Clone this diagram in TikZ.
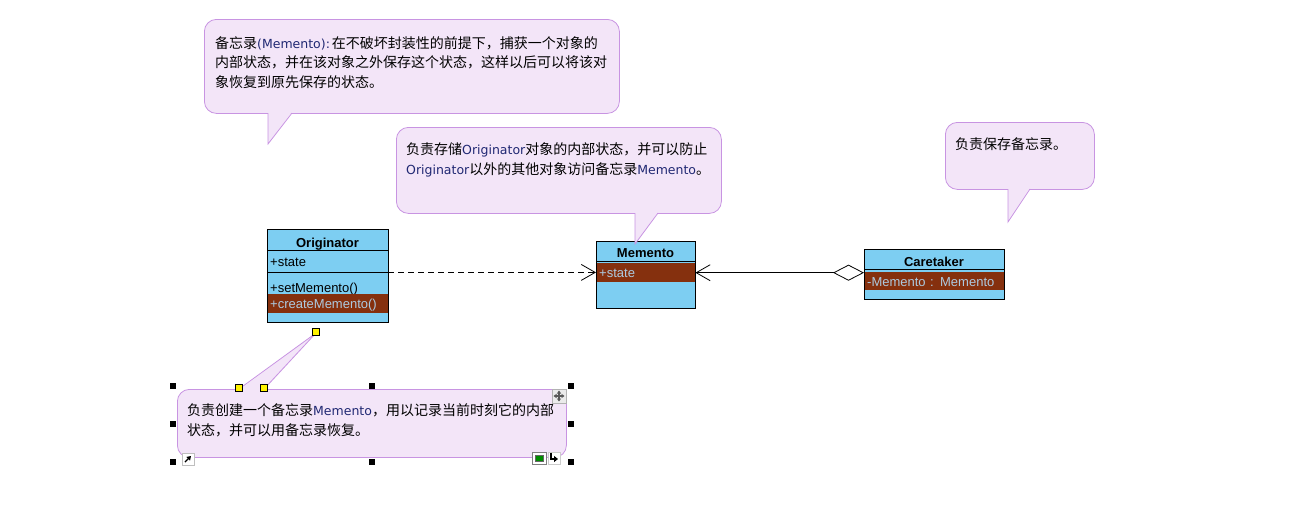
\documentclass[tikz,border=0pt]{standalone}
\usepackage{fontspec}
\setmainfont{Liberation Sans}
\newfontfamily\cjk{Noto Sans CJK SC}
\newfontfamily\notelat{DejaVu Sans}
\usetikzlibrary{arrows.meta}
\definecolor{clsblue}{RGB}{125,206,242}
\definecolor{hlbrown}{RGB}{133,48,14}
\definecolor{hltext}{RGB}{172,202,224}
\definecolor{notefill}{RGB}{243,229,248}
\definecolor{noteline}{RGB}{200,148,226}
\definecolor{notelatin}{RGB}{32,40,115}
\newcommand{\latword}[1]{{\notelat\fontsize{12.5}{19.7}\selectfont\color{notelatin}#1}}
\begin{document}
\begin{tikzpicture}
    [x=1pt, y=-1pt,
     classbox/.style={anchor=north west, fill=clsblue, inner sep=0pt},
     classname/.style={font=\fontsize{13}{15}\selectfont\bfseries, inner sep=0pt, text height=9.5pt, text depth=2.7pt},
     clsrow/.style={anchor=north west, inner xsep=3pt, inner ysep=0pt, align=left, font=\fontsize{13}{15}\selectfont, text height=11.5pt, text depth=1pt},
     hlrow/.style={clsrow, fill=hlbrown, text=hltext},
     clsline/.style={draw=black, line width=1pt},
     depend/.style={line width=0.8pt, dash pattern=on 6pt off 4pt, -{Straight Barb[length=14pt,width=16pt]}},
     aggreg/.style={line width=0.8pt, {Diamond[fill=white,length=31pt,width=16pt]}-{Straight Barb[length=14pt,width=16pt]}},
     notebox/.style={anchor=north west, draw=noteline, fill=notefill, line width=0.8pt, rounded corners=12pt, inner sep=0pt},
     noteedge/.style={draw=noteline, line width=0.8pt},
     notetext/.style={anchor=north west, inner sep=0pt, align=left, font=\cjk\fontsize{14}{19.7}\selectfont},
     selbox/.style={fill=black},
     gripbox/.style={fill=yellow, draw=black, line width=0.6pt}]
    \useasboundingbox (0,0) rectangle (1296,517);
    % Originator
    \node [classbox, minimum width=121pt, minimum height=93pt] (orig) at (267,229) {};
    \node [classname] (origName) at (327.5,244.3) {Originator};
    \node [clsrow, minimum height=22pt] (origState) at (267,250) {+state};
    \node [clsrow, minimum height=22pt] (origSet) at (267,276) {+setMemento()};
    \node [hlrow, text width=115pt, minimum height=19pt] (origCreate) at (267,294) {+createMemento()};
    \draw [clsline] (orig.west |- origState.north) -- (orig.east |- origState.north);
    \draw [clsline] (orig.west |- origState.south) -- (orig.east |- origState.south);
    \draw [clsline] (orig.north west) rectangle (orig.south east);
    % Memento
    \node [classbox, minimum width=99pt, minimum height=67pt] (mem) at (596,241) {};
    \node [classname] (memName) at (645.5,254.3) {Memento};
    \node [hlrow, text width=93pt, minimum height=19pt] (memState) at (596,263) {+state};
    \draw [clsline] ([yshift=2pt]memState.north west) -- ([yshift=2pt]memState.north east);
    \draw [clsline] (mem.north west) rectangle (mem.south east);
    % Caretaker
    \node [classbox, minimum width=140pt, minimum height=50pt] (care) at (864,249) {};
    \node [classname] (careName) at (934,263.5) {Caretaker};
    \node [hlrow, text width=134pt, minimum height=18pt] (careState) at (864,272) {-Memento : Memento};
    \draw [clsline] ([yshift=3pt]careState.north west) -- ([yshift=3pt]careState.north east);
    \draw [clsline] (care.north west) rectangle (care.south east);
    \draw [depend] (orig.east |- origState.south) -- (orig.east |- origState.south -| mem.west);
    \draw [aggreg] (care.west |- memState) -- (memState.east);
    % notes
    \node [notebox, minimum width=415pt, minimum height=94pt] (note1) at (204,19) {};
    \coordinate (tip1) at (268,144);
    \fill [notefill] (268,112) -- (tip1) -- (292,112) -- cycle;
    \draw [noteedge] (268,113) -- (tip1) -- (292,113);
    \node [notetext] (note1Text) at (215,36) {备忘录\latword{(Memento):}\hspace{2pt}在不破坏封装性的前提下，捕获一个对象的\\内部状态，并在该对象之外保存这个状态，这样以后可以将该对\\象恢复到原先保存的状态。};
    \node [notebox, minimum width=325pt, minimum height=86pt] (note2) at (396,127) {};
    \coordinate (tip2) at (635,244);
    \fill [notefill] (635,212) -- (tip2) -- (658,212) -- cycle;
    \draw [noteedge] (635,213) -- (tip2) -- (658,213);
    \node [notetext] (note2Text) at (406,142.7) {负责存储\latword{Originator}对象的内部状态，并可以防止\\\latword{Originator}以外的其他对象访问备忘录\latword{Memento}。};
    \node [notebox, minimum width=149pt, minimum height=67pt] (note3) at (945,122) {};
    \coordinate (tip3) at (1008,222);
    \fill [notefill] (1008,188) -- (tip3) -- (1030,188) -- cycle;
    \draw [noteedge] (1008,189) -- (tip3) -- (1030,189);
    \node [notetext] (note3Text) at (955,137) {负责保存备忘录。};
    \node [notebox, minimum width=389pt, minimum height=68pt] (note4) at (177,389) {};
    \coordinate (tip4) at (316,333);
    \fill [notefill] (239,390) -- (tip4) -- (264,390) -- cycle;
    \draw [noteedge] (239,389) -- (tip4) -- (264,389);
    \node [notetext] (note4Text) at (187,403.7) {负责创建一个备忘录\latword{Memento}，用以记录当前时刻它的内部\\状态，并可以用备忘录恢复。};
    % selection marks
    \foreach \hx/\hy in {173/386,372/386,571/386,173/424,571/424,173/462,372/462,571/462}
        \fill [selbox] (\hx-3,\hy-3) rectangle (\hx+3,\hy+3);
    \foreach \hx/\hy in {316/332,239/388,264/388}
        \filldraw [gripbox] (\hx-3.5,\hy-3.5) rectangle (\hx+3.5,\hy+3.5);
    \draw [draw=black!25, fill=white] (182,453) rectangle (194,465);
    \draw [line width=1.4pt, -{Triangle[length=4pt,width=5pt]}] (185,462) -- (191,456);
    \draw [draw=black!30, fill=black!8] (552,389) rectangle (566,403);
    \draw [line width=1.2pt, black!65, {Triangle[length=3pt,width=4pt]}-{Triangle[length=3pt,width=4pt]}] (553.5,396) -- (564.5,396);
    \draw [line width=1.2pt, black!65, {Triangle[length=3pt,width=4pt]}-{Triangle[length=3pt,width=4pt]}] (559,390.5) -- (559,401.5);
    \draw [draw=black!50, fill=white] (532,452) rectangle (546,464);
    \draw [draw=black!60, fill=green!55!black] (535,455) rectangle (543,461);
    \draw [draw=black!20, fill=white] (548,452) rectangle (560,464);
    \draw [line width=1.2pt, -{Triangle[length=4pt,width=6pt]}] (551,452.5) -- (551,459) -- (558,459);
\end{tikzpicture}
\end{document}
